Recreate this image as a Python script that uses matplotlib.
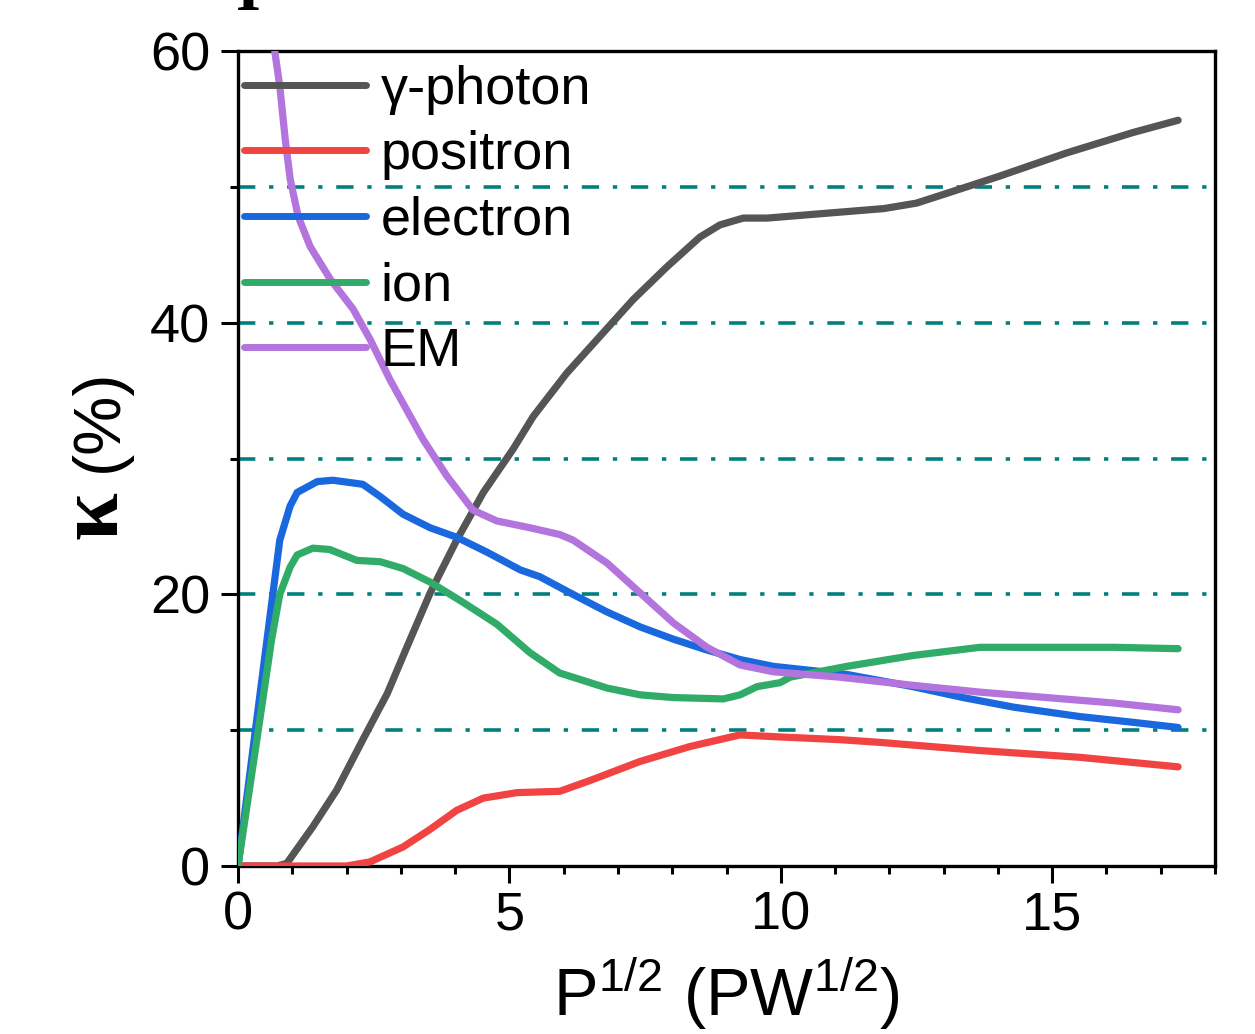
import matplotlib
matplotlib.use("Agg")
import matplotlib.pyplot as plt
from matplotlib.ticker import MultipleLocator

# ---- data ----
photon_x = [0.0, 0.72, 0.9, 1.38, 1.82, 2.3, 2.75, 3.11, 3.54, 4.03, 4.52, 5.07, 5.44, 6.06, 6.67,
            7.28, 7.9, 8.51, 8.88, 9.31, 9.75, 10.67, 11.9, 12.5, 13.12, 14.04, 15.27, 16.49, 17.32]
photon_y = [0.0, 0.0, 0.2, 2.9, 5.6, 9.3, 12.7, 16.1, 20.1, 24.0, 27.5, 30.7, 33.1, 36.3, 39.0,
            41.7, 44.1, 46.3, 47.2, 47.7, 47.7, 48.0, 48.4, 48.8, 49.6, 50.8, 52.5, 54.0, 54.9]

positron_x = [0.0, 2.0, 2.43, 3.04, 3.54, 4.03, 4.52, 5.14, 5.93, 6.49, 7.41, 8.33, 9.25, 9.99,
              11.09, 11.83, 13.67, 15.51, 17.32]
positron_y = [0.0, 0.0, 0.3, 1.4, 2.7, 4.1, 5.0, 5.4, 5.5, 6.3, 7.7, 8.8, 9.65, 9.5,
              9.3, 9.1, 8.5, 8.0, 7.3]

electron_x = [0.0, 0.77, 0.96, 1.09, 1.46, 1.75, 2.3, 2.62, 3.04, 3.54, 4.03, 4.59, 5.2, 5.56,
              6.17, 6.8, 7.41, 8.02, 8.64, 9.25, 9.86, 10.78, 11.22, 12.44, 13.36, 14.28, 15.51,
              16.44, 17.32]
electron_y = [0.0, 24.0, 26.5, 27.5, 28.3, 28.4, 28.1, 27.2, 25.9, 24.9, 24.2, 23.1, 21.8, 21.3,
              20.0, 18.7, 17.6, 16.7, 15.9, 15.2, 14.7, 14.3, 14.1, 13.2, 12.4, 11.7, 11.0,
              10.6, 10.2]

ion_x = [0.0, 0.37, 0.62, 0.77, 0.96, 1.09, 1.38, 1.69, 2.19, 2.62, 3.04, 3.54, 4.15, 4.77, 5.38,
         5.93, 6.17, 6.8, 7.41, 8.02, 8.94, 9.25, 9.56, 9.99, 10.17, 11.22, 12.44, 13.67, 14.9,
         16.13, 17.32]
ion_y = [0.0, 9.9, 16.7, 20.0, 22.0, 22.9, 23.4, 23.3, 22.5, 22.4, 21.9, 20.9, 19.4, 17.8, 15.7,
         14.2, 13.9, 13.1, 12.6, 12.4, 12.3, 12.6, 13.2, 13.5, 13.9, 14.7, 15.5, 16.1, 16.1,
         16.1, 16.0]

em_x = [0.62, 0.68, 0.77, 0.87, 0.96, 1.11, 1.33, 1.7, 2.12, 2.43, 2.8, 3.41, 3.85, 4.33, 4.77,
        5.38, 5.93, 6.17, 6.8, 7.41, 8.02, 8.64, 9.25, 9.86, 11.09, 12.44, 13.67, 14.9, 16.13,
        17.32]
em_y = [65.0, 59.9, 57.4, 53.5, 50.6, 47.8, 45.6, 43.2, 41.0, 38.8, 35.8, 31.4, 28.7, 26.2, 25.4,
        24.9, 24.4, 24.0, 22.3, 20.1, 17.9, 16.1, 14.8, 14.3, 13.9, 13.3, 12.8, 12.4, 12.0,
        11.5]

grid_levels = [10, 20, 30, 40, 50]
x_ticks = [0, 5, 10, 15]
y_ticks = [0, 20, 40, 60]

series = [
    ("γ-photon", photon_x, photon_y, "#555555"),
    ("positron", positron_x, positron_y, "#f24343"),
    ("electron", electron_x, electron_y, "#1a68de"),
    ("ion", ion_x, ion_y, "#30ab68"),
    ("EM", em_x, em_y, "#b374dd"),
]

plt.rcParams["font.family"] = ["Liberation Sans", "DejaVu Sans"]
plt.rcParams["mathtext.fontset"] = "custom"
plt.rcParams["mathtext.rm"] = "Liberation Sans"
plt.rcParams["mathtext.it"] = "Liberation Sans"

W, H = 1255, 1034
fig = plt.figure(figsize=(W / 100, H / 100), dpi=100)
ax = fig.add_axes([238 / W, 1 - 866 / H, (1215 - 238) / W, (866 - 51) / H])

for lv in grid_levels:
    ax.axhline(lv, color="#00807c", lw=2.6, ls=(0, (4.8, 3.8, 1.2, 3.8)), zorder=1)

for name, xs, ys, c in series:
    ax.plot(xs, ys, color=c, lw=5.2, label=name, solid_capstyle="round",
            solid_joinstyle="round", zorder=3)

ax.set_xlim(0, 18)
ax.set_ylim(0, 60)
ax.set_xticks(x_ticks)
ax.set_yticks(y_ticks)
ax.xaxis.set_minor_locator(MultipleLocator(1))
ax.yaxis.set_minor_locator(MultipleLocator(10))
ax.tick_params(which="major", direction="out", length=12, width=2.2, labelsize=39, pad=6)
ax.tick_params(axis="y", which="major", pad=8)
ax.tick_params(which="minor", direction="out", length=6, width=2.2)
ax.tick_params(top=False, right=False, which="both")
for s in ax.spines.values():
    s.set_linewidth(2.4)

ax.set_xlabel(r"P$^{1/2}$ (PW$^{1/2}$)", fontsize=48, labelpad=10)

# y label: bold serif kappa + sans "(%)"
fig.text(96 / W, 1 - 515 / H, "κ", rotation=90, fontsize=62, fontweight="bold",
         family=["Liberation Serif", "DejaVu Serif"], ha="center", va="center")
fig.text(100 / W, 1 - 420 / H, "(%)", rotation=90, fontsize=48, ha="center", va="center")

# cropped panel letter at top-left (only its foot is visible in the reference)
fig.text(248 / W, 1 - 10 / H, "I", fontsize=46, fontweight="bold",
         family=["Liberation Serif", "DejaVu Serif"], ha="center", va="baseline")

leg = ax.legend(loc="upper left", bbox_to_anchor=(-0.008, 1.0), frameon=False, fontsize=39,
                handlelength=2.25, handletextpad=0.28, labelspacing=0.29, borderaxespad=0.1,
                borderpad=0.15)
for l in leg.get_lines():
    l.set_linewidth(5)

fig.savefig("out.png", dpi=100)
